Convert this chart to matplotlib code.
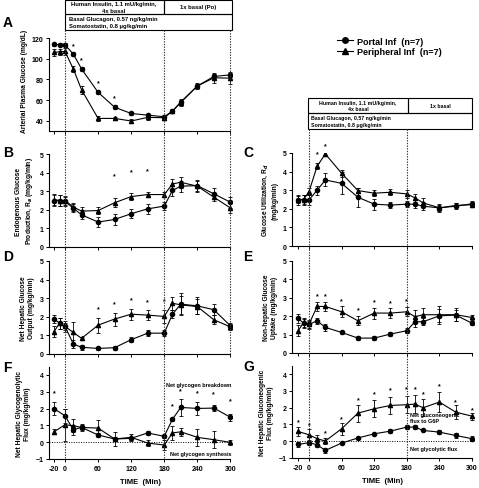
import matplotlib
matplotlib.use("Agg")
import matplotlib.pyplot as plt
from matplotlib.lines import Line2D
from matplotlib.patches import Rectangle

plt.rcParams['font.family'] = ['Liberation Sans', 'DejaVu Sans']
plt.rcParams['font.weight'] = 'bold'

# time points (min)
t_full = [-20, -10, 0, 15, 30, 60, 90, 120, 150, 180, 195, 210, 240, 270, 300]
t_flux = [-20, 0, 15, 30, 60, 90, 120, 150, 180, 195, 210, 240, 270, 300]

# A: arterial plasma glucose
a_portal = [114.2, 113.6, 113.6, 104.6, 90.2, 67.5, 53.1, 47.0, 45.4, 43.8, 49.3, 58.2, 73.6, 82.9, 84.5]
a_portal_err = [1.5, 1.5, 1.5, 2, 2, 1.5, 2, 1.5, 1.5, 1.5, 1.5, 2, 2, 2, 2]
a_periph = [106.2, 106.9, 107.2, 90.2, 70.0, 42.2, 42.2, 39.7, 43.2, 42.9, 49.3, 57.6, 73.6, 81.6, 81.3]
a_periph_err = [3, 3, 3, 3, 4, 2.5, 1.5, 1.5, 2.5, 2, 2, 3, 3, 5, 6]
a_stars = [15, 30, 60, 90]
a_star_y = [113, 99, 76.5, 62.7]

# B: endogenous glucose production
b_portal = [2.5, 2.5, 2.45, 2.09, 1.73, 1.34, 1.48, 1.79, 2.05, 2.2, 3.04, 3.27, 3.3, 2.86, 2.41]
b_portal_err = [0.3, 0.3, 0.25, 0.2, 0.25, 0.25, 0.3, 0.25, 0.25, 0.2, 0.3, 0.3, 0.3, 0.3, 0.3]
b_periph = [2.55, 2.5, 2.5, 2.15, 1.93, 1.96, 2.38, 2.71, 2.82, 2.82, 3.39, 3.48, 3.27, 2.68, 2.1]
b_periph_err = [0.3, 0.3, 0.25, 0.2, 0.2, 0.2, 0.25, 0.2, 0.15, 0.15, 0.25, 0.3, 0.3, 0.2, 0.25]
b_stars = [90, 120, 150]
b_star_y = [3.84, 4.05, 4.1]

# C: glucose utilization
c_portal = [2.48, 2.48, 2.48, 3.0, 3.55, 3.37, 2.62, 2.25, 2.2, 2.25, 2.25, 2.14, 2.05, 2.14, 2.27]
c_portal_err = [0.25, 0.25, 0.25, 0.25, 0.35, 0.6, 0.5, 0.3, 0.15, 0.15, 0.2, 0.2, 0.2, 0.15, 0.15]
c_periph = [2.5, 2.5, 2.93, 4.29, 4.95, 3.91, 2.98, 2.84, 2.89, 2.8, 2.59, 2.32, 2.05, 2.18, 2.22]
c_periph_err = [0.2, 0.25, 0.2, 0.15, 0.1, 0.2, 0.15, 0.15, 0.15, 0.2, 0.2, 0.25, 0.15, 0.15, 0.15]
c_stars = [15, 30]
c_star_y = [4.95, 5.4]

# D: net hepatic glucose output
d_portal = [1.88, 1.66, 1.48, 0.54, 0.36, 0.3, 0.34, 0.77, 1.12, 1.12, 2.14, 2.68, 2.59, 2.38, 1.52]
d_portal_err = [0.2, 0.3, 0.2, 0.2, 0.15, 0.1, 0.1, 0.15, 0.15, 0.15, 0.2, 0.6, 0.45, 0.3, 0.15]
d_periph = [1.2, 1.66, 1.48, 1.16, 0.84, 1.55, 1.88, 2.14, 2.09, 2.02, 2.73, 2.64, 2.55, 1.84, 1.46]
d_periph_err = [0.3, 0.3, 0.3, 0.55, 0.1, 0.4, 0.35, 0.3, 0.25, 0.35, 0.35, 0.5, 0.4, 0.25, 0.15]
d_stars = [60, 90, 120, 150, 180]
d_star_y = [2.46, 2.68, 2.91, 2.82, 2.86]

# E: non-hepatic glucose uptake
e_portal = [1.88, 1.62, 1.55, 1.75, 1.39, 1.12, 0.81, 0.81, 1.03, 1.21, 1.7, 1.7, 2.02, 2.06, 1.62]
e_portal_err = [0.25, 0.25, 0.2, 0.15, 0.2, 0.1, 0.1, 0.1, 0.1, 0.15, 0.3, 0.2, 0.35, 0.3, 0.1]
e_periph = [1.21, 1.66, 1.57, 2.53, 2.53, 2.24, 1.75, 2.17, 2.17, 2.24, 1.97, 2.08, 2.08, 2.08, 1.93]
e_periph_err = [0.3, 0.25, 0.25, 0.25, 0.25, 0.3, 0.25, 0.3, 0.25, 0.25, 0.35, 0.35, 0.5, 0.35, 0.15]
e_stars = [15, 30, 60, 90, 120, 150, 180]
e_star_y = [3.1, 3.1, 2.85, 2.35, 2.8, 2.75, 2.85]

# F: net hepatic glycogenolytic flux
f_portal = [2.0, 1.57, 0.74, 0.88, 0.43, 0.19, 0.23, 0.55, 0.35, 1.37, 2.07, 2.01, 2.03, 1.49]
f_portal_err = [0.4, 0.4, 0.3, 0.2, 0.1, 0.1, 0.1, 0.1, 0.1, 0.1, 0.5, 0.4, 0.2, 0.2]
f_periph = [0.62, 1.04, 0.98, 0.88, 0.84, 0.19, 0.29, -0.05, -0.17, 0.55, 0.62, 0.29, 0.15, -0.01]
f_periph_err = [0.15, 0.95, 0.4, 0.15, 0.5, 0.4, 0.2, 0.2, 0.3, 0.4, 0.25, 0.5, 0.5, 0.15]
f_stars = [-20, 195, 210, 240, 270, 300]
f_star_y = [2.96, 2.17, 3.06, 2.96, 2.9, 2.46]

# G: net hepatic gluconeogenic flux
g_periph = [0.58, 0.38, 0.15, 0.01, 0.74, 1.67, 1.93, 2.13, 2.17, 2.21, 1.99, 2.33, 1.73, 1.49]
g_periph_err = [0.25, 0.35, 0.2, 0.2, 0.35, 0.5, 0.5, 0.5, 0.5, 0.55, 0.5, 0.6, 0.4, 0.2]
g_portal = [-0.19, -0.09, -0.21, -0.55, -0.11, 0.19, 0.44, 0.6, 0.84, 0.84, 0.64, 0.54, 0.34, 0.15]
g_portal_err = [0.15, 0.15, 0.15, 0.15, 0.05, 0.05, 0.05, 0.1, 0.1, 0.1, 0.05, 0.1, 0.15, 0.15]
g_stars = [-20, 0, 30, 60, 90, 120, 150, 180, 195, 210, 240, 270, 300]
g_star_y = [1.17, 0.97, 0.5, 1.33, 2.44, 2.84, 3.04, 3.14, 3.1, 2.84, 3.3, 2.34, 1.9]

W, H = 479, 489
fig = plt.figure(figsize=(W / 100, H / 100), dpi=100)


def px_axes(x0, x1, ytop, ybot):
    ax = fig.add_axes([x0 / W, 1 - ybot / H, (x1 - x0) / W, (ybot - ytop) / H])
    ax.patch.set_visible(False)
    return ax


LEFT = (49, 232)
RIGHT = (292, 474)
XL_LEFT = (-29.1, 303)
XL_RIGHT = (-31.3, 303.7)

# overlay axes for the dotted protocol lines that run down each column
DOT = (0, (1.2, 1.2))
for (x0, x1), xl, marks in [(LEFT, XL_LEFT, [(0, 31, 460), (180, 31, 460), (300, 31, 357)]),
                            (RIGHT, XL_RIGHT, [(0, 130, 459), (180, 130, 459)])]:
    ov = fig.add_axes([x0 / W, 0, (x1 - x0) / W, 1], zorder=5)
    ov.set_xlim(*xl)
    ov.set_ylim(H, 0)
    ov.axis('off')
    for xv, y0, y1 in marks:
        ov.plot([xv, xv], [y0, y1], color='#333333', lw=0.8, ls=DOT)


def ftext(x, y, s, ha='center', size=4.2, va='center'):
    fig.text(x / W, 1 - y / H, s, ha=ha, va=va, fontsize=size, fontweight='bold',
             linespacing=1.3)


def style(ax, xlim, ylim, yticks, ylabel, xlabels=False, spine_top=None):
    ax.set_xlim(*xlim)
    ax.set_ylim(*ylim)
    ax.spines['top'].set_visible(False)
    ax.spines['right'].set_visible(False)
    for s in ['left', 'bottom']:
        ax.spines[s].set_linewidth(0.8)
    if spine_top is not None:
        ax.spines['left'].set_bounds(ylim[0], spine_top)
    ax.spines['bottom'].set_bounds(xlim[0], 300)
    ax.set_xticks([-20, 0, 60, 120, 180, 240, 300])
    ax.set_yticks(yticks)
    ax.tick_params(direction='out', length=2.5, width=0.7, labelsize=5, pad=1.5)
    if xlabels:
        ax.set_xticklabels(['-20', '0', '60', '120', '180', '240', '300'], fontweight='bold')
        ax.set_xlabel('TIME  (Min)', fontsize=5.5, fontweight='bold', labelpad=5)
    else:
        ax.set_xticklabels([])
    for lab in ax.get_yticklabels():
        lab.set_fontweight('bold')
    ax.set_ylabel(ylabel, fontsize=4.8, fontweight='bold', labelpad=3, linespacing=1.3)


def series(ax, t, y, err, marker, ms=3.0):
    ax.errorbar(t, y, yerr=err, color='black', lw=0.8, marker=marker, ms=ms,
                elinewidth=0.6, capsize=1.6, capthick=0.6, zorder=3)


def stars(ax, t, y):
    for xi, yi in zip(t, y):
        ax.text(xi, yi, '*', fontsize=5, ha='center', va='center')


# panel A
axA = px_axes(*LEFT, 31, 132)
series(axA, t_full, a_portal, a_portal_err, 'o')
series(axA, t_full, a_periph, a_periph_err, '^')
stars(axA, a_stars, a_star_y)
style(axA, XL_LEFT, (30, 128), [40, 60, 80, 100, 120], 'Arterial Plasma Glucose (mg/dL)',
      spine_top=120)

# panel B
axB = px_axes(*LEFT, 155, 248)
series(axB, t_full, b_portal, b_portal_err, 'o')
series(axB, t_full, b_periph, b_periph_err, '^')
stars(axB, b_stars, b_star_y)
style(axB, XL_LEFT, (0, 5), range(6), 'Endogenous Glucose\nProduction, R$_a$ (mg/kg/min)')

# panel C
axC = px_axes(*RIGHT, 154, 247)
series(axC, t_full, c_portal, c_portal_err, 'o')
series(axC, t_full, c_periph, c_periph_err, '^')
stars(axC, c_stars, c_star_y)
style(axC, XL_RIGHT, (0, 5), range(6), 'Glucose Utilization, R$_d$\n(mg/kg/min)')

# panel D
axD = px_axes(*LEFT, 262, 355)
series(axD, t_full, d_portal, d_portal_err, 'o')
series(axD, t_full, d_periph, d_periph_err, '^')
stars(axD, d_stars, d_star_y)
style(axD, XL_LEFT, (0, 5), range(6), 'Net Hepatic Glucose\nOutput (mg/kg/min)')

# panel E
axE = px_axes(*RIGHT, 262, 354)
series(axE, t_full, e_portal, e_portal_err, 'o')
series(axE, t_full, e_periph, e_periph_err, '^')
stars(axE, e_stars, e_star_y)
style(axE, XL_RIGHT, (0, 5), range(6), 'Non-hepatic Glucose\nUptake (mg/kg/min)')

# panel F
axF = px_axes(*LEFT, 367.6, 460)
axF.axhline(0, color='black', lw=0.7, ls=(0, (1, 1.5)), zorder=1)
series(axF, t_flux, f_portal, f_portal_err, 'o')
series(axF, t_flux, f_periph, f_periph_err, '^')
stars(axF, f_stars, f_star_y)
style(axF, XL_LEFT, (-1, 4.5), range(-1, 5), 'Net Hepatic Glycogenolytic\nFlux (mg/kg/min)',
      xlabels=True, spine_top=4.5)
axF.text(184, 3.45, 'Net glycogen breakdown', fontsize=4, ha='left', va='center')
axF.text(190, -0.65, 'Net glycogen synthesis', fontsize=4, ha='left', va='center')

# panel G
axG = px_axes(*RIGHT, 366.6, 459)
axG.axhline(0, color='black', lw=0.7, ls=(0, (1, 1.5)), zorder=1)
series(axG, t_flux, g_periph, g_periph_err, '^')
series(axG, t_flux, g_portal, g_portal_err, 'o')
stars(axG, g_stars, g_star_y)
style(axG, XL_RIGHT, (-1, 4.5), range(-1, 5), 'Net Hepatic Gluconeogenic\nFlux (mg/kg/min)',
      xlabels=True, spine_top=4.5)
axG.text(186, 1.42, 'Net gluconeogenic\nflux to G6P', fontsize=4, ha='left', va='center',
         linespacing=1.3)
axG.text(186, -0.45, 'Net glycolytic flux', fontsize=4, ha='left', va='center')

# panel letters
for letter, (lx, ly) in zip('ABCDEFG', [(3, 23), (3, 153), (243, 153), (3, 257),
                                        (243, 257), (3, 368), (243, 367)]):
    ftext(lx, ly, letter, ha='left', size=10)


# condition boxes
def box(x0, y0, x1, y1):
    fig.add_artist(Rectangle((x0 / W, 1 - y1 / H), (x1 - x0) / W, (y1 - y0) / H,
                             transform=fig.transFigure, fill=False, lw=0.8, ec='black'))


box(65, 0.5, 164, 15)
box(164, 0.5, 232, 15)
box(65, 15, 232, 31)
ftext(114, 8, 'Human Insulin, 1.1 mU/kg/min,\n4x basal')
ftext(198, 8, '1x basal (Po)')
ftext(69, 23, 'Basal Glucagon, 0.57 ng/kg/min\nSomatostatin, 0.8 \u03bcg/kg/min', ha='left')

box(308, 99, 408, 114)
box(408, 99, 472, 114)
box(308, 114, 472, 130)
ftext(358, 106.5, 'Human Insulin, 1.1 mU/kg/min,\n4x basal', size=3.8)
ftext(440, 106.5, '1x basal', size=3.8)
ftext(311, 122, 'Basal Glucagon, 0.57 ng/kg/min\nSomatostatin, 0.8 \u03bcg/kg/min', ha='left',
      size=3.8)

# legend
handles = [Line2D([], [], color='black', marker='o', lw=0.8, ms=4),
           Line2D([], [], color='black', marker='^', lw=0.8, ms=4)]
fig.legend(handles, ['Portal Inf  (n=7)', 'Peripheral Inf  (n=7)'],
           loc='center left', bbox_to_anchor=(332 / W, 1 - 47.5 / H), frameon=False,
           prop={'size': 6.5, 'weight': 'bold'}, handlelength=1.8, handletextpad=0.5,
           labelspacing=0.2, borderpad=0)

fig.savefig('out.png', dpi=100)
